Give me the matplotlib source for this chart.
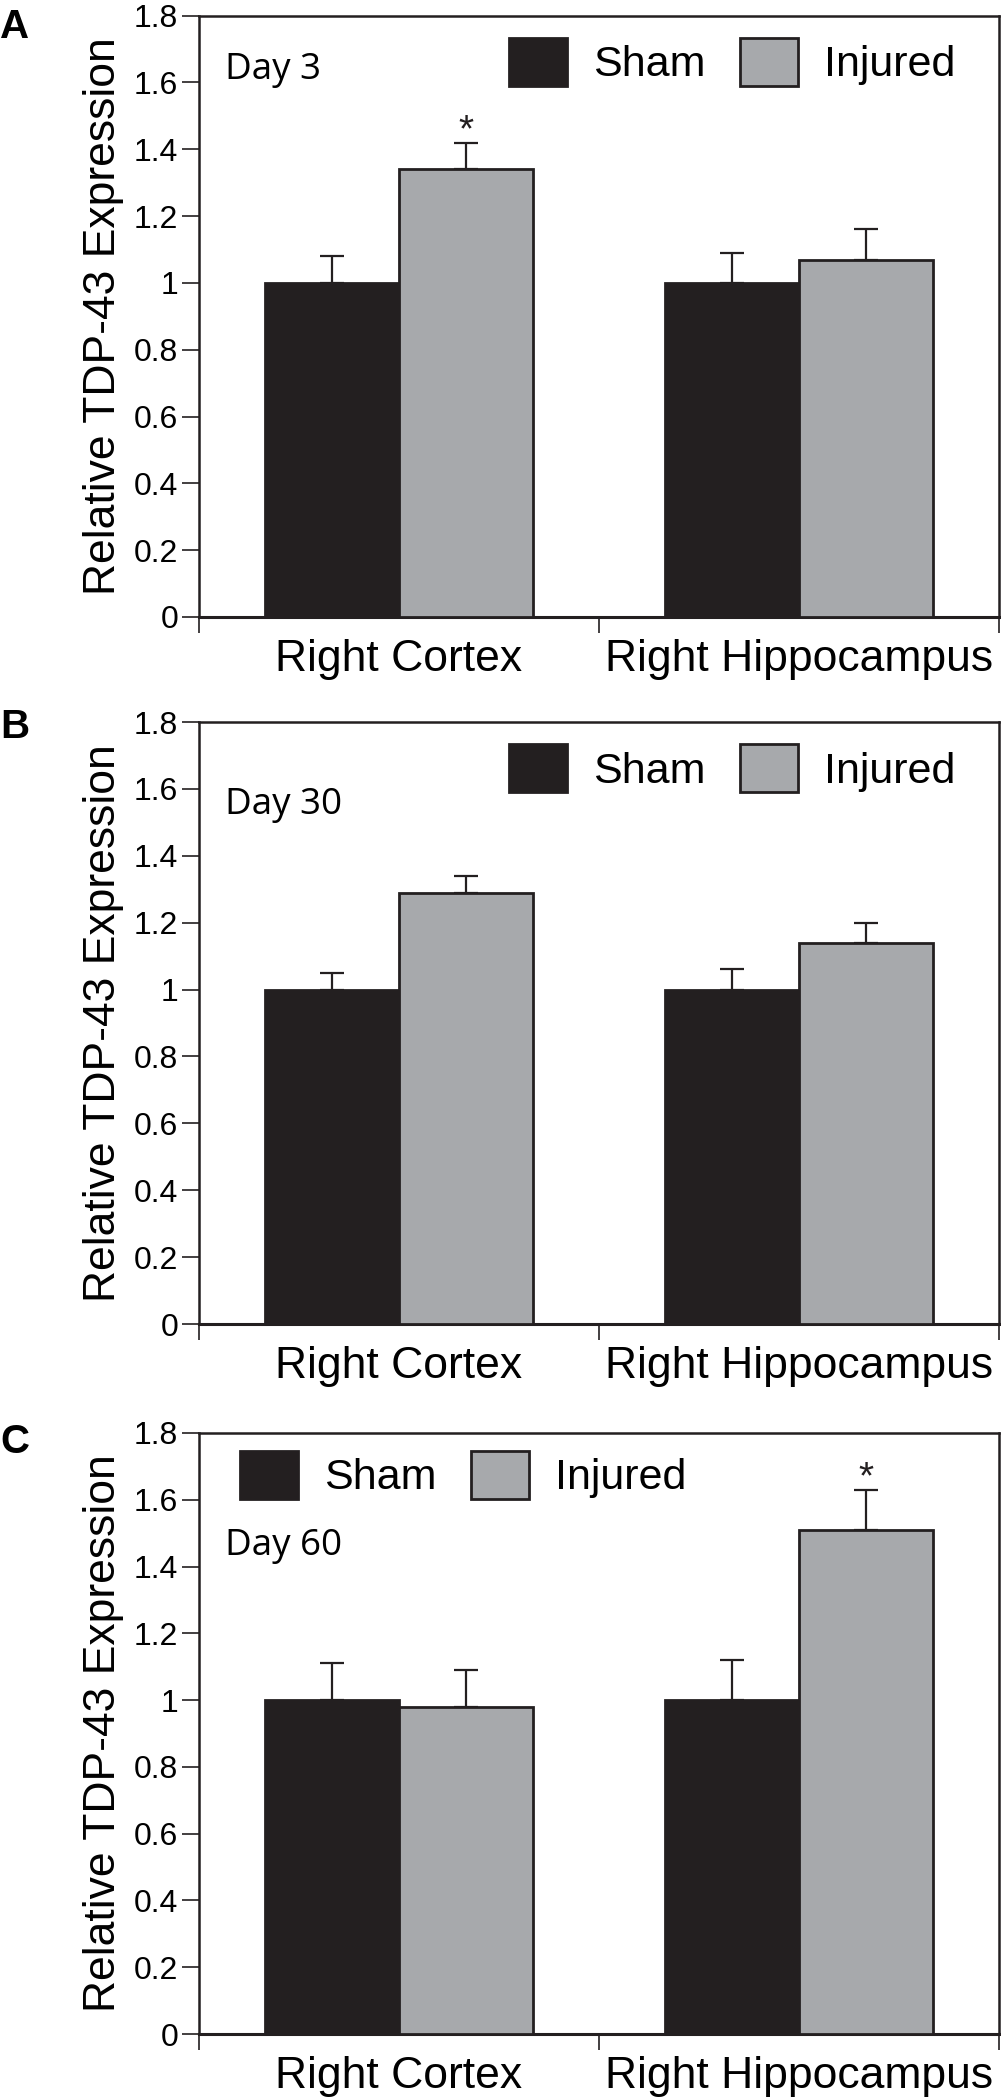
import numpy as np
import matplotlib
matplotlib.use("Agg")
import matplotlib.pyplot as plt
from matplotlib.patches import Patch
from matplotlib.ticker import StrMethodFormatter

plt.rcParams['font.family'] = ['Liberation Sans', 'DejaVu Sans']

# data
regions = ['Right Cortex', 'Right Hippocampus']
groups = ['Sham', 'Injured']
panel_labels = ['A', 'B', 'C']
days = ['Day 3', 'Day 30', 'Day 60']
sham_mean = [[1.0, 1.0], [1.0, 1.0], [1.0, 1.0]]
sham_err = [[0.08, 0.09], [0.05, 0.06], [0.11, 0.12]]
injured_mean = [[1.34, 1.07], [1.29, 1.14], [0.98, 1.51]]
injured_err = [[0.08, 0.09], [0.05, 0.06], [0.11, 0.12]]
injured_sig = [[True, False], [False, False], [False, True]]
yticks = [0, 0.2, 0.4, 0.6, 0.8, 1.0, 1.2, 1.4, 1.6, 1.8]

# layout (pixels in the 1001x2100 figure)
W, H = 1001, 2100
ax_tops = [15.6, 722, 1433]
ax_bottoms = [617, 1324, 2034]
day_y = [1.636, 1.553, 1.463]
legend_xy = [(0.3875, 0.963), (0.3875, 0.963), (0.051, 0.970)]
letter_base = [38, 738, 1453]

sham_color = '#231f20'
inj_color = '#a7a9ac'
edge = '#231f20'
w = 0.335

fig = plt.figure(figsize=(W / 100, H / 100), dpi=100)

for i in range(3):
    top, bot = ax_tops[i], ax_bottoms[i]
    ax = fig.add_axes([199 / W, 1 - bot / H, 800 / W, (bot - top) / H])
    x = np.arange(len(regions)) + 0.5

    ax.bar(x - w / 2, sham_mean[i], w, color=sham_color, edgecolor=edge, lw=2, zorder=3)
    ax.bar(x + w / 2, injured_mean[i], w, color=inj_color, edgecolor=edge, lw=2, zorder=3)
    ax.errorbar(x - w / 2, sham_mean[i], yerr=[np.zeros(2), sham_err[i]], fmt='none',
                ecolor=edge, elinewidth=1.6, capsize=8.3, capthick=1.6, zorder=2)
    ax.errorbar(x + w / 2, injured_mean[i], yerr=[np.zeros(2), injured_err[i]], fmt='none',
                ecolor=edge, elinewidth=1.6, capsize=8.3, capthick=1.6, zorder=2)

    # significance stars
    for j in range(len(regions)):
        if injured_sig[i][j]:
            ax.text(x[j] + w / 2, injured_mean[i][j] + injured_err[i][j] + 0.005, '*',
                    ha='center', va='baseline', fontsize=28, color=edge)

    ax.set_xlim(0, 2)
    ax.set_ylim(0, 1.8)
    ax.set_yticks(yticks)
    ax.yaxis.set_major_formatter(StrMethodFormatter('{x:g}'))
    ax.set_xticks([0, 1, 2])
    ax.set_xticklabels([])
    ax.set_xticks(x, minor=True)
    ax.set_xticklabels(regions, minor=True)
    ax.tick_params(axis='x', which='major', length=11.5, width=1.2, direction='out', color=edge)
    ax.tick_params(axis='x', which='minor', length=0, pad=16, labelsize=32)
    ax.tick_params(axis='y', length=12, width=1.2, direction='out', labelsize=23, pad=3, color=edge)
    for s in ax.spines.values():
        s.set_linewidth(1.8)
        s.set_color(edge)
    ax.spines['bottom'].set_linewidth(2.2)

    ax.set_ylabel('Relative TDP-43 Expression', fontsize=32)
    ax.yaxis.set_label_coords(-0.094, 0.5)

    ax.text(0.065, day_y[i], days[i], fontsize=26.5, family=['Open Sans', 'DejaVu Sans'],
            ha='left', va='center')

    handles = [Patch(facecolor=sham_color, edgecolor=edge, lw=2),
               Patch(facecolor=inj_color, edgecolor=edge, lw=2)]
    ax.legend(handles, groups, loc='upper left', bbox_to_anchor=legend_xy[i], ncol=2,
              frameon=False, fontsize=31, handlelength=1.35, handleheight=1.33,
              handletextpad=0.6, columnspacing=0.8, borderpad=0, borderaxespad=0)

    fig.text(0.0, 1 - letter_base[i] / H, panel_labels[i], fontsize=29, fontweight='bold',
             ha='left', va='baseline')

fig.savefig('out.png', dpi=100)
